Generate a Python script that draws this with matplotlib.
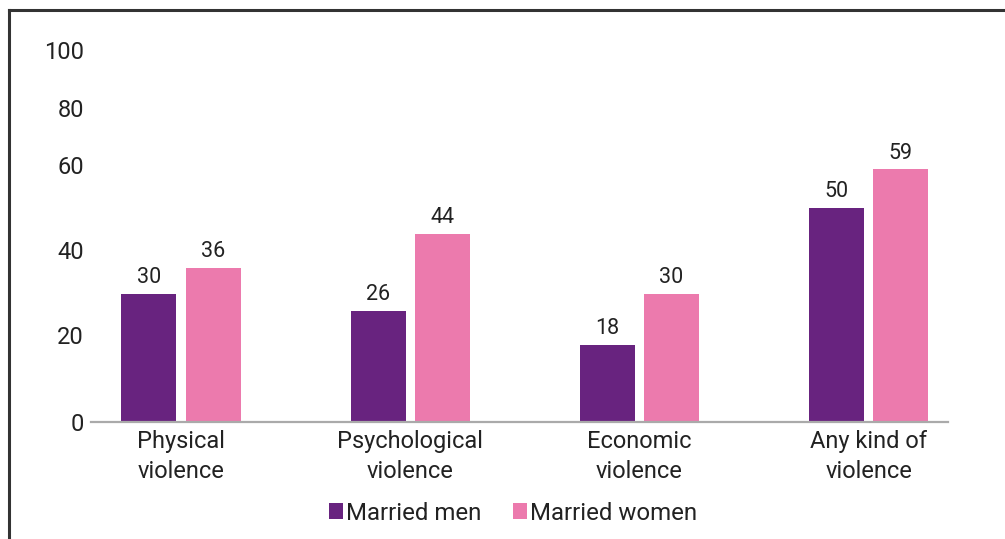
# -*- coding: utf-8 -*-
"""
Married men / married women: share who experienced each kind of violence.
"""

# モジュールのインポート
import numpy as np
import matplotlib as mpl
import matplotlib.pyplot as plt
from matplotlib.lines import Line2D

# データ
categories = ["Physical\nviolence", "Psychological\nviolence",
              "Economic\nviolence", "Any kind of\nviolence"]
men   = [30, 26, 18, 50]
women = [36, 44, 30, 59]
series_names = ["Married men", "Married women"]
ytick_labels = ["0", "20", "40", "60", "80", "100"]

# 色・フォント
col_men   = "#68237F"
col_women = "#EC7AAD"
text_col  = "#222222"
mpl.rcParams['font.family'] = ['Roboto', 'DejaVu Sans']

# 図・座標軸の設定
fig = plt.figure(figsize=(10.05, 5.39), dpi=100)
ax  = fig.add_axes([0.0905, 0.2171, 0.8527, 0.7147])

x = np.arange(len(categories))
w = 0.24
off = 0.14
b1 = ax.bar(x - off, men,   width=w, color=col_men,   label=series_names[0])
b2 = ax.bar(x + off, women, width=w, color=col_women, label=series_names[1])

# 値ラベル
for b in (b1, b2):
    ax.bar_label(b, padding=4, fontsize=15.5, color=text_col)

# 軸の範囲
ax.set_xlim(-0.393, 3.346)
ax.set_ylim(0, 90)

# 目盛り (the original chart spaces its upper labels unevenly)
ax.set_yticks([0, 20.3, 40.2, 60, 73.4, 86.9])
ax.set_yticklabels(ytick_labels)
ax.set_xticks(x)
ax.set_xticklabels(categories, linespacing=1.35)
ax.tick_params(axis='y', length=0, pad=5, labelsize=17, colors=text_col)
ax.tick_params(axis='x', length=0, pad=6, labelsize=17, colors=text_col)

# 枠線
for s in ['top', 'right', 'left']:
    ax.spines[s].set_visible(False)
ax.spines['bottom'].set_color('#AAAAAA')
ax.spines['bottom'].set_linewidth(1.6)

# 凡例
ax.legend(loc='center', bbox_to_anchor=(513 / 1005, 1 - 513 / 539),
          bbox_transform=fig.transFigure, ncol=2, frameon=False,
          fontsize=17.3, handlelength=0.6, handleheight=0.6,
          handletextpad=0.12, columnspacing=1.3, labelcolor=text_col)

# 外枠 (left and top border of the panel)
fig.add_artist(Line2D([9 / 1005, 9 / 1005], [0, 1 - 10 / 539],
                      transform=fig.transFigure, color='#333333', linewidth=2.2))
fig.add_artist(Line2D([9 / 1005, 1], [1 - 10 / 539, 1 - 10 / 539],
                      transform=fig.transFigure, color='#333333', linewidth=2.2))

# 図の保存
fig.savefig('out.png', dpi=100, facecolor='white')
